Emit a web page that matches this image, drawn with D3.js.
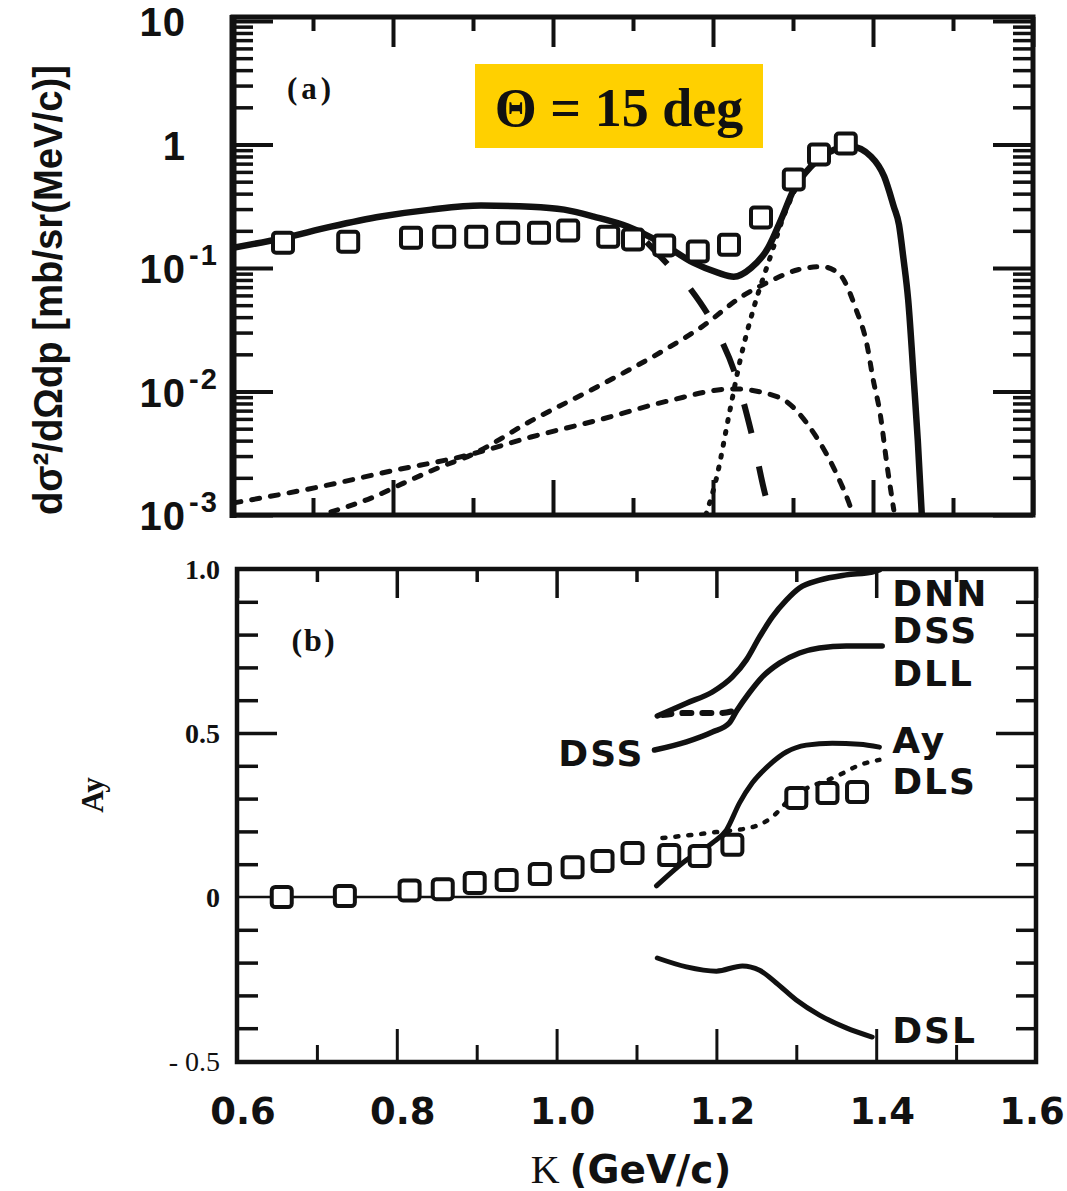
<!DOCTYPE html>
<html><head><meta charset="utf-8">
<script src="https://cdn.jsdelivr.net/npm/d3@7"></script>
<style>body{margin:0;background:#fff} svg{display:block}</style>
</head><body>
<svg id="chart" width="1067" height="1191"></svg>
<script>
// ---------- tick data ----------
const kMajorTicks = [0.6, 0.8, 1.0, 1.2, 1.4, 1.6];
const kMajorLabels = ["0.6", "0.8", "1.0", "1.2", "1.4", "1.6"];
const kMinorTicks = [0.7, 0.9, 1.1, 1.3, 1.5];
const logMajorTicks = [1e-3, 1e-2, 1e-1, 1, 10];
const logTickBase = ["10", "10", "10", "1", "10"];
const logTickExp = ["-3", "-2", "-1", "", ""];
const ayMajorTicks = [-0.5, 0, 0.5, 1.0];
const ayTickLabels = ["- 0.5", "0", "0.5", "1.0"];
const ayMinorTicks = [-0.4, -0.3, -0.2, -0.1, 0.1, 0.2, 0.3, 0.4, 0.6, 0.7, 0.8, 0.9];

// ---------- panel (a): cross section ----------
const crossK   = [0.6625, 0.744, 0.8225, 0.864, 0.904, 0.944, 0.9825, 1.019, 1.069, 1.100, 1.139, 1.181, 1.220, 1.260, 1.301, 1.3325, 1.366];
const crossVal = [0.160, 0.163, 0.176, 0.179, 0.179, 0.193, 0.193, 0.201, 0.179, 0.170, 0.152, 0.136, 0.154, 0.256, 0.520, 0.830, 1.02];

const totalK   = [0.600, 0.660, 0.7225, 0.785, 0.8475, 0.91, 0.9725, 1.014, 1.051, 1.094, 1.135, 1.176, 1.206, 1.226, 1.2475, 1.269, 1.285, 1.301, 1.3225, 1.344, 1.3725, 1.3975, 1.414, 1.426, 1.4325, 1.438, 1.444, 1.451, 1.456, 1.461];
const totalVal = [0.146, 0.173, 0.216, 0.261, 0.297, 0.320, 0.314, 0.297, 0.261, 0.216, 0.160, 0.110, 0.0916, 0.085, 0.100, 0.146, 0.246, 0.432, 0.663, 0.861, 0.963, 0.80, 0.55, 0.314, 0.224, 0.12, 0.055, 0.0124, 0.004, 0.001];

const qfK   = [1.105, 1.144, 1.1725, 1.204, 1.229, 1.25, 1.2675, 1.274];
const qfVal = [0.195, 0.106, 0.0667, 0.0316, 0.0131, 0.0041, 0.0013, 0.001];

const peakK   = [1.191, 1.204, 1.221, 1.234, 1.251, 1.2725, 1.289, 1.304];
const peakVal = [0.001, 0.00195, 0.00696, 0.018, 0.0477, 0.128, 0.27, 0.448];

const compAK   = [0.600, 0.706, 0.7975, 0.894, 0.9725, 1.0575, 1.144, 1.225, 1.281, 1.3275, 1.3575, 1.37, 1.375];
const compAVal = [0.00125, 0.00168, 0.00227, 0.00306, 0.00428, 0.00589, 0.00839, 0.0105, 0.00904, 0.00445, 0.00195, 0.00125, 0.001];

const compBK   = [0.7225, 0.7725, 0.814, 0.856, 0.8975, 0.9725, 1.0575, 1.144, 1.186, 1.2375, 1.2725, 1.306, 1.336, 1.3575, 1.379, 1.3925, 1.40, 1.409, 1.4175, 1.426];
const compBVal = [0.00106, 0.00137, 0.00182, 0.0024, 0.00306, 0.00578, 0.0111, 0.0226, 0.0334, 0.0596, 0.0789, 0.0968, 0.1025, 0.0899, 0.0459, 0.0239, 0.0127, 0.00658, 0.00254, 0.0011];

// ---------- panel (b): polarization observables ----------
const ayK   = [0.656, 0.735, 0.816, 0.8575, 0.8975, 0.9375, 0.979, 1.02, 1.0575, 1.095, 1.141, 1.179, 1.22, 1.30, 1.339, 1.376];
const ayVal = [0.0, 0.003, 0.02, 0.024, 0.043, 0.052, 0.070, 0.091, 0.110, 0.134, 0.128, 0.125, 0.159, 0.302, 0.317, 0.320];

const ayCalcK   = [1.125, 1.1625, 1.195, 1.2125, 1.229, 1.245, 1.266, 1.2875, 1.3125, 1.345, 1.379, 1.404];
const ayCalcVal = [0.034, 0.113, 0.165, 0.204, 0.287, 0.348, 0.402, 0.442, 0.463, 0.469, 0.466, 0.457];

const dnnK   = [1.126, 1.1625, 1.195, 1.22, 1.2375, 1.254, 1.27, 1.2875, 1.304, 1.329, 1.3625, 1.395, 1.404];
const dnnVal = [0.552, 0.591, 0.625, 0.671, 0.723, 0.793, 0.854, 0.905, 0.942, 0.966, 0.982, 0.991, 0.997];

const dssK   = [1.1225, 1.1625, 1.195, 1.216, 1.226, 1.241, 1.2575, 1.279, 1.304, 1.329, 1.3625, 1.4075];
const dssVal = [0.448, 0.473, 0.503, 0.530, 0.570, 0.622, 0.671, 0.713, 0.744, 0.759, 0.765, 0.765];

const dllK   = [1.1325, 1.1625, 1.204, 1.226];
const dllVal = [0.555, 0.561, 0.561, 0.570];

const dlsK   = [1.1325, 1.2, 1.245, 1.27, 1.291, 1.354, 1.379, 1.404];
const dlsVal = [0.180, 0.198, 0.213, 0.244, 0.296, 0.372, 0.402, 0.418];

const dslK   = [1.126, 1.1625, 1.2, 1.2325, 1.254, 1.275, 1.30, 1.329, 1.3625, 1.395];
const dslVal = [-0.186, -0.213, -0.226, -0.210, -0.223, -0.262, -0.314, -0.360, -0.399, -0.427];

const curveLabels   = ["DNN", "DSS", "DLL", "Ay", "DLS", "DSL"];
const curveLabelVal = [0.887, 0.774, 0.643, 0.439, 0.314, -0.445];
const leftLabel = "DSS";
const leftLabelVal = 0.399;

// ---------- drawing ----------
const svg = d3.select("#chart");
const INK = "#111";
const SANS = "'DejaVu Sans', sans-serif";
const ARIAL = "'Liberation Sans', Arial, sans-serif";
const SERIF = "'Liberation Serif', 'Times New Roman', serif";

const zip = (a, b) => a.map((v, i) => [v, b[i]]);

// scales
const xA = d3.scaleLinear().domain([0.6, 1.6]).range([233, 1033]);
const yA = d3.scaleLog().domain([1e-3, 10]).range([515, 21]);
const xB = d3.scaleLinear().domain([0.6, 1.6]).range([237, 1036]);
const yB = d3.scaleLinear().domain([-0.5, 1.0]).range([1061, 569]);

function drawTicks(g, axis, transform, width) {
  const a = g.append("g").attr("transform", transform).call(axis);
  a.select(".domain").remove();
  a.selectAll("text").remove();
  a.selectAll("line").attr("stroke", INK).attr("stroke-width", width);
}

// ===== Panel (a) =====
const gA = svg.append("g");
const logMinor = [];
for (let e = -3; e <= 0; e++) for (let m = 2; m <= 9; m++) logMinor.push(m * Math.pow(10, e));
drawTicks(gA, d3.axisLeft(yA).tickValues(logMajorTicks).tickSize(-40).tickSizeOuter(0), "translate(233,0)", 4);
drawTicks(gA, d3.axisLeft(yA).tickValues(logMinor).tickSize(-20).tickSizeOuter(0), "translate(233,0)", 3.5);
drawTicks(gA, d3.axisRight(yA).tickValues(logMajorTicks).tickSize(-40).tickSizeOuter(0), "translate(1033,0)", 4);
drawTicks(gA, d3.axisRight(yA).tickValues(logMinor).tickSize(-20).tickSizeOuter(0), "translate(1033,0)", 3.5);
drawTicks(gA, d3.axisBottom(xA).tickValues(kMajorTicks).tickSize(-35).tickSizeOuter(0), "translate(0,515)", 4);
drawTicks(gA, d3.axisBottom(xA).tickValues(kMinorTicks).tickSize(-17).tickSizeOuter(0), "translate(0,515)", 4);
drawTicks(gA, d3.axisTop(xA).tickValues(kMajorTicks).tickSize(-30).tickSizeOuter(0), "translate(0,17)", 4);
drawTicks(gA, d3.axisTop(xA).tickValues(kMinorTicks).tickSize(-14).tickSizeOuter(0), "translate(0,17)", 4);

gA.append("rect").attr("x", 233).attr("y", 17).attr("width", 800).attr("height", 498)
  .attr("fill", "none").attr("stroke", INK).attr("stroke-width", 5);
gA.append("line").attr("x1", 233).attr("x2", 233).attr("y1", 15).attr("y2", 518).attr("stroke", INK).attr("stroke-width", 7);

svg.append("clipPath").attr("id", "clipA").append("rect").attr("x", 233).attr("y", 17).attr("width", 800).attr("height", 498);

const lineA = d3.line().x(d => xA(d[0])).y(d => yA(d[1])).curve(d3.curveMonotoneX);
const curvesA = gA.append("g").attr("clip-path", "url(#clipA)").attr("fill", "none").attr("stroke", INK).attr("stroke-linecap", "round");

curvesA.append("path").attr("d", lineA(zip(compAK, compAVal))).attr("stroke-width", 5).attr("stroke-dasharray", "8,11");
curvesA.append("path").attr("d", lineA(zip(compBK, compBVal))).attr("stroke-width", 5).attr("stroke-dasharray", "7,11");
curvesA.append("path").attr("d", lineA(zip(peakK, peakVal))).attr("stroke-width", 5).attr("stroke-dasharray", "2,10");
curvesA.append("path").attr("d", lineA(zip(qfK, qfVal))).attr("stroke-width", 6).attr("stroke-dasharray", "0,14,30,20").attr("stroke-linecap", "butt");
curvesA.append("path").attr("d", lineA(zip(totalK, totalVal))).attr("stroke-width", 6.5);

gA.append("g").selectAll("rect").data(zip(crossK, crossVal)).join("rect")
  .attr("x", d => xA(d[0]) - 10).attr("y", d => yA(d[1]) - 10)
  .attr("width", 20).attr("height", 20).attr("rx", 3)
  .attr("fill", "#fff").attr("stroke", INK).attr("stroke-width", 4);

logMajorTicks.forEach((v, i) => {
  const y = yA(v);
  gA.append("text").attr("x", 186).attr("y", y + 15).attr("text-anchor", "end")
    .attr("font-family", ARIAL).attr("font-weight", "bold").attr("font-size", 40)
    .attr("letter-spacing", 1).attr("fill", INK).text(logTickBase[i]);
  if (logTickExp[i]) {
    gA.append("text").attr("x", 189).attr("y", y - 3)
      .attr("font-family", ARIAL).attr("font-weight", "bold").attr("font-size", 29)
      .attr("letter-spacing", 2).attr("fill", INK).text(logTickExp[i]);
  }
});

svg.append("text").attr("transform", "translate(62,290) rotate(-90)").attr("text-anchor", "middle")
  .attr("font-family", ARIAL).attr("font-weight", "bold").attr("font-size", 40)
  .attr("textLength", 450).attr("lengthAdjust", "spacingAndGlyphs")
  .attr("fill", INK).text("dσ²/dΩdp [mb/sr(MeV/c)]");

gA.append("text").attr("x", 311).attr("y", 99).attr("text-anchor", "middle")
  .attr("font-family", SERIF).attr("font-weight", "bold").attr("font-size", 31)
  .attr("letter-spacing", 4).attr("fill", INK).text("(a)");

gA.append("rect").attr("x", 475).attr("y", 64).attr("width", 288).attr("height", 84).attr("fill", "#FFD000");
gA.append("text").attr("x", 619).attr("y", 126).attr("text-anchor", "middle")
  .attr("font-family", SERIF).attr("font-weight", "bold").attr("font-size", 54)
  .attr("fill", INK).text("Θ = 15 deg");

// ===== Panel (b) =====
const gB = svg.append("g");
drawTicks(gB, d3.axisLeft(yB).tickValues([0.5]).tickSize(-40).tickSizeOuter(0), "translate(237,0)", 3.5);
drawTicks(gB, d3.axisLeft(yB).tickValues(ayMinorTicks).tickSize(-21).tickSizeOuter(0), "translate(237,0)", 3.5);
drawTicks(gB, d3.axisRight(yB).tickValues([0.5]).tickSize(-40).tickSizeOuter(0), "translate(1036,0)", 3.5);
drawTicks(gB, d3.axisRight(yB).tickValues(ayMinorTicks).tickSize(-20).tickSizeOuter(0), "translate(1036,0)", 3.5);
drawTicks(gB, d3.axisBottom(xB).tickValues(kMajorTicks).tickSize(-33).tickSizeOuter(0), "translate(0,1062)", 3);
drawTicks(gB, d3.axisBottom(xB).tickValues(kMinorTicks).tickSize(-17).tickSizeOuter(0), "translate(0,1062)", 3);
drawTicks(gB, d3.axisTop(xB).tickValues(kMajorTicks).tickSize(-29).tickSizeOuter(0), "translate(0,569)", 3.5);
drawTicks(gB, d3.axisTop(xB).tickValues(kMinorTicks).tickSize(-13).tickSizeOuter(0), "translate(0,569)", 3.5);

gB.append("rect").attr("x", 237).attr("y", 569).attr("width", 799).attr("height", 493)
  .attr("fill", "none").attr("stroke", INK).attr("stroke-width", 4.5);
gB.append("line").attr("x1", 237).attr("x2", 1036).attr("y1", yB(0)).attr("y2", yB(0))
  .attr("stroke", INK).attr("stroke-width", 2.5);

const lineB = d3.line().x(d => xB(d[0])).y(d => yB(d[1])).curve(d3.curveMonotoneX);
const curvesB = gB.append("g").attr("fill", "none").attr("stroke", INK).attr("stroke-linecap", "round");
curvesB.append("path").attr("d", lineB(zip(dnnK, dnnVal))).attr("stroke-width", 5.5);
curvesB.append("path").attr("d", lineB(zip(dssK, dssVal))).attr("stroke-width", 5.5);
curvesB.append("path").attr("d", lineB(zip(dllK, dllVal))).attr("stroke-width", 6).attr("stroke-dasharray", "9,11");
curvesB.append("path").attr("d", lineB(zip(ayCalcK, ayCalcVal))).attr("stroke-width", 5);
curvesB.append("path").attr("d", lineB(zip(dlsK, dlsVal))).attr("stroke-width", 4.5).attr("stroke-dasharray", "3,10");
curvesB.append("path").attr("d", lineB(zip(dslK, dslVal))).attr("stroke-width", 5);

gB.append("g").selectAll("rect").data(zip(ayK, ayVal)).join("rect")
  .attr("x", d => xB(d[0]) - 10).attr("y", d => yB(d[1]) - 10)
  .attr("width", 20).attr("height", 20).attr("rx", 3.5)
  .attr("fill", "#fff").attr("stroke", INK).attr("stroke-width", 4);

curveLabels.forEach((t, i) => {
  gB.append("text").attr("x", xB(1.42)).attr("y", yB(curveLabelVal[i]))
    .attr("font-family", SANS).attr("font-weight", "bold").attr("font-size", 36)
    .attr("letter-spacing", 2).attr("fill", INK).text(t);
});
gB.append("text").attr("x", xB(1.11)).attr("y", yB(leftLabelVal)).attr("text-anchor", "end")
  .attr("font-family", SANS).attr("font-weight", "bold").attr("font-size", 36)
  .attr("letter-spacing", 2).attr("fill", INK).text(leftLabel);

ayMajorTicks.forEach((v, i) => {
  gB.append("text").attr("x", 220).attr("y", yB(v) + 10).attr("text-anchor", "end")
    .attr("font-family", SERIF).attr("font-weight", v < 0 ? "normal" : "bold").attr("font-size", 28)
    .attr("fill", INK).text(ayTickLabels[i]);
});

svg.append("text").attr("transform", "translate(103,795) rotate(-90)").attr("text-anchor", "middle")
  .attr("font-family", SERIF).attr("font-weight", "bold").attr("font-size", 31)
  .attr("fill", INK).text("Ay");

gB.append("text").attr("x", 314).attr("y", 651).attr("text-anchor", "middle")
  .attr("font-family", SERIF).attr("font-weight", "bold").attr("font-size", 32)
  .attr("letter-spacing", 2).attr("fill", INK).text("(b)");

kMajorTicks.forEach((v, i) => {
  svg.append("text").attr("x", Math.min(xB(v) + 6, 1032)).attr("y", 1124).attr("text-anchor", "middle")
    .attr("font-family", SANS).attr("font-weight", "bold").attr("font-size", 37)
    .attr("fill", INK).text(kMajorLabels[i]);
});

const xt = svg.append("text").attr("x", 631).attr("y", 1183).attr("text-anchor", "middle").attr("fill", INK);
xt.append("tspan").attr("font-family", SERIF).attr("font-size", 40).text("K ");
xt.append("tspan").attr("font-family", SANS).attr("font-weight", "bold").attr("font-size", 39).text("(GeV/c)");
</script>
</body></html>
